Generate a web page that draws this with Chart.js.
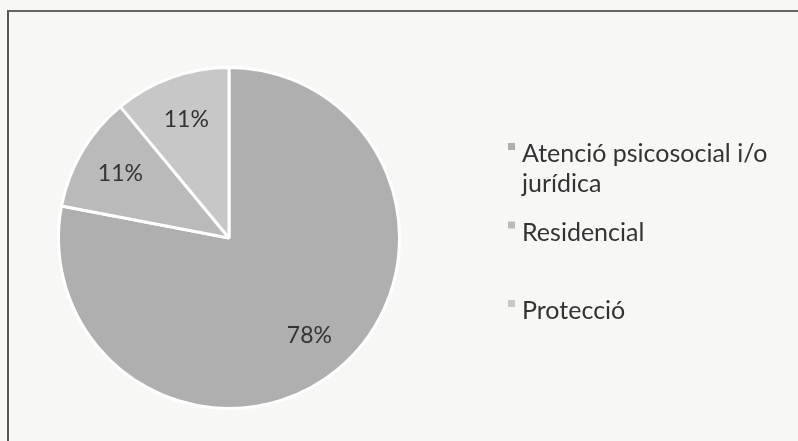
<!DOCTYPE html>
<html>
<head>
<meta charset="utf-8">
<script src="https://cdn.jsdelivr.net/npm/chart.js@4.4.1/dist/chart.umd.min.js"></script>
<style>
  html, body { margin: 0; padding: 0; background: #f7f7f5; overflow: hidden; }
  #wrap { position: relative; width: 798px; height: 441px; overflow: hidden; }
  #frame {
    position: absolute; left: 7px; top: 10px; width: 900px; height: 500px;
    border-left: 2px solid #555; border-top: 2px solid #666;
  }
  #chart { position: absolute; left: 0; top: 0; }
</style>
</head>
<body>
<div id="wrap">
  <div id="frame"></div>
  <canvas id="chart" width="798" height="441"></canvas>
</div>
<script>
const categories = ["Atenció psicosocial i/o jurídica", "Residencial", "Protecció"];
const shares = [78, 11, 11];
const sliceColors = ["#afafaf", "#bababa", "#c7c7c7"];

const FONT = "Lato, 'Open Sans', sans-serif";

// percentage labels inside slices
const sliceLabels = {
  id: "sliceLabels",
  afterDatasetsDraw(chart) {
    const ctx = chart.ctx;
    const arcs = chart.getDatasetMeta(0).data;
    ctx.save();
    ctx.font = "23px " + FONT;
    ctx.fillStyle = "#333";
    ctx.textAlign = "center";
    ctx.textBaseline = "middle";
    arcs.forEach((arc, i) => {
      const p = arc.getProps(["x", "y", "startAngle", "endAngle", "outerRadius"], true);
      const mid = (p.startAngle + p.endAngle) / 2;
      const d = p.outerRadius * 0.74;
      ctx.fillText(shares[i] + "%", p.x + Math.cos(mid) * d, p.y + Math.sin(mid) * d);
    });
    ctx.restore();
  },
};

// legend on the right, wrapped text
const sideLegend = {
  id: "sideLegend",
  afterDraw(chart) {
    const ctx = chart.ctx;
    const x = 508, top = 143, step = 78.5, maxW = 262, lineH = 30;
    ctx.save();
    ctx.font = "25px " + FONT;
    ctx.textBaseline = "alphabetic";
    chart.data.labels.forEach((label, i) => {
      const y = top + i * step;
      ctx.fillStyle = sliceColors[i];
      ctx.fillRect(x, y, 7, 7);
      // wrap words
      const words = label.split(" ");
      const lines = [];
      let line = "";
      words.forEach((w) => {
        const test = line ? line + " " + w : w;
        if (ctx.measureText(test).width > maxW && line) {
          lines.push(line);
          line = w;
        } else {
          line = test;
        }
      });
      lines.push(line);
      ctx.fillStyle = "#333";
      lines.forEach((l, j) => ctx.fillText(l, x + 14, y + 19 + j * lineH));
    });
    ctx.restore();
  },
};

new Chart(document.getElementById("chart"), {
  type: "pie",
  data: {
    labels: categories,
    datasets: [
      {
        data: shares,
        backgroundColor: sliceColors,
        borderColor: "#ffffff",
        borderWidth: 3,
      },
    ],
  },
  options: {
    responsive: false,
    animation: false,
    layout: { padding: { left: 57, top: 66, right: 397, bottom: 31 } },
    plugins: {
      legend: { display: false },
      tooltip: { enabled: false },
    },
  },
  plugins: [sliceLabels, sideLegend],
});
</script>
</body>
</html>
